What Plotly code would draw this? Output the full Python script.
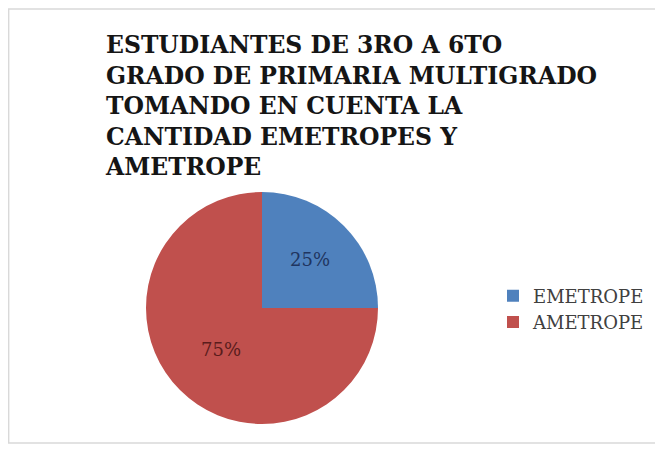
import plotly.graph_objects as go

labels = ["EMETROPE", "AMETROPE"]
values = [25, 75]
colors = ["#4f81bd", "#c0504d"]
text_colors = ["#1f3560", "#5a1c1c"]
title_lines = [
    "ESTUDIANTES DE 3RO A 6TO",
    "GRADO DE PRIMARIA MULTIGRADO",
    "TOMANDO EN CUENTA LA",
    "CANTIDAD EMETROPES Y",
    "AMETROPE",
]

OFF = 8  # browser body margin
W, H = 663 - OFF, 450 - OFF


def px(x):
    return (x - OFF) / W


def py(y):
    return 1 - (y - OFF) / H


cx, cy, r = 262, 308, 116

fig = go.Figure(go.Pie(
    labels=labels,
    values=values,
    sort=False,
    direction="clockwise",
    rotation=0,
    marker=dict(colors=colors, line=dict(width=0)),
    textinfo="percent",
    textposition="inside",
    insidetextorientation="horizontal",
    insidetextfont=dict(family="DejaVu Serif", size=18, color=text_colors),
    hoverinfo="label+percent",
    domain=dict(x=[px(cx - r), px(cx + r)], y=[py(cy + r), py(cy - r)]),
))

fig.add_annotation(
    text="<b>" + "<br>".join(title_lines) + "</b>",
    xref="paper", yref="paper",
    x=px(103), y=py(29),
    xanchor="left", yanchor="top", align="left",
    showarrow=False,
    font=dict(family="DejaVu Serif", size=23.5, color="#151515"),
)

fig.add_shape(
    type="rect", xref="paper", yref="paper",
    x0=0.001, x1=1.1, y0=py(443), y1=py(9),
    line=dict(color="#d9d9d9", width=1.5),
    fillcolor="rgba(0,0,0,0)",
)

fig.update_layout(
    width=W, height=H,
    margin=dict(l=0, r=0, t=0, b=0),
    paper_bgcolor="white",
    plot_bgcolor="white",
    showlegend=True,
    legend=dict(
        x=px(493), y=py(309), xanchor="left", yanchor="middle",
        font=dict(family="DejaVu Serif", size=18, color="#404040"),
        itemwidth=30, tracegroupgap=0,
        bgcolor="rgba(0,0,0,0)",
    ),
)

fig.write_html("out.html")
